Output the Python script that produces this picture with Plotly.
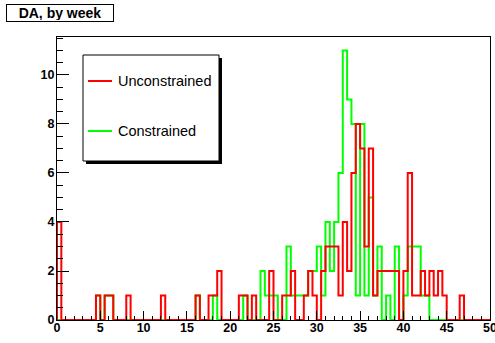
import numpy as np
import plotly.graph_objects as go

# Histogram binning: 100 half-week bins from 0 to 50
x_min, x_max, bin_width = 0.0, 50.0, 0.5

# Bin contents, 10 bins per row
unconstrained = [
    4, 0, 0, 0, 0, 0, 0, 0, 0, 1,
    0, 1, 1, 0, 0, 0, 1, 0, 0, 0,
    0, 0, 0, 0, 1, 0, 0, 0, 0, 0,
    0, 0, 1, 0, 0, 1, 1, 2, 0, 0,
    0, 0, 1, 1, 0, 1, 0, 0, 0, 2,
    0, 0, 1, 1, 2, 0, 0, 1, 2, 1,
    0, 2, 3, 3, 3, 1, 4, 2, 6, 8,
    7, 3, 7, 1, 2, 2, 2, 2, 2, 0,
    2, 6, 1, 1, 2, 1, 2, 1, 2, 1,
    0, 0, 0, 1, 0, 0, 0, 0, 0, 0,
]
constrained = [
    0, 0, 0, 0, 0, 0, 0, 0, 0, 1,
    0, 1, 1, 0, 0, 0, 0, 0, 0, 0,
    0, 0, 0, 0, 0, 0, 0, 0, 0, 0,
    0, 0, 1, 0, 0, 0, 1, 0, 0, 0,
    0, 0, 0, 1, 0, 0, 0, 2, 1, 1,
    1, 0, 0, 3, 1, 1, 1, 1, 2, 2,
    3, 1, 4, 2, 4, 6, 11, 9, 8, 1,
    8, 1, 5, 1, 3, 0, 1, 0, 3, 0,
    1, 3, 3, 3, 1, 1, 0, 0, 0, 0,
    0, 0, 0, 0, 0, 0, 0, 0, 0, 0,
]
series_names = ["Unconstrained", "Constrained"]
series_colors = ["#ff0000", "#00ff00"]

edges = np.arange(x_min, x_max + bin_width / 2, bin_width)
y_max = 1.05 * max(max(unconstrained), max(constrained))


def outline(counts):
    """Step outline of a histogram, closed down to zero at both ends."""
    xs = [edges[0]] + list(edges) + [edges[-1]]
    ys = [0] + list(counts) + [counts[-1], 0]
    return xs, ys


# Plot-area geometry in pixels (used for the legend box and title placement)
W, H = 495, 343
L, R, T, B = 57, 5, 37, 23
pw, ph = W - L - R, H - T - B


def px(x):
    return (x - L) / pw


def py(y):
    return (H - B - y) / ph


fig = go.Figure()
# constrained drawn first so the unconstrained outline sits on top
for counts, name, color in [(constrained, series_names[1], series_colors[1]),
                            (unconstrained, series_names[0], series_colors[0])]:
    xs, ys = outline(counts)
    fig.add_trace(go.Scatter(x=xs, y=ys, mode="lines", name=name,
                             line=dict(color=color, width=2, shape="hv"),
                             showlegend=False, hoverinfo="skip"))

tick_font = dict(family="Liberation Sans", size=12.5, color="black", weight="bold")

fig.update_layout(
    width=W, height=H,
    margin=dict(l=L, r=R, t=T, b=B, autoexpand=False),
    paper_bgcolor="white", plot_bgcolor="white",
    showlegend=False,
    xaxis=dict(range=[x_min, x_max], showgrid=False, zeroline=False, automargin=False,
               showline=True, mirror=True, linecolor="black", linewidth=1,
               ticks="inside", ticklen=9, tickcolor="black", dtick=5, tick0=0,
               tickfont=tick_font, ticklabeloverflow="allow", ticklabelstandoff=-4,
               minor=dict(ticks="inside", ticklen=4, dtick=1, tickcolor="black", showgrid=False)),
    yaxis=dict(range=[0, y_max], showgrid=False, zeroline=False, automargin=False,
               showline=True, mirror=True, linecolor="black", linewidth=1,
               ticks="inside", ticklen=12, tickcolor="black", dtick=2, tick0=0,
               tickfont=tick_font, ticklabelstandoff=-1,
               minor=dict(ticks="inside", ticklen=6, dtick=0.5, tickcolor="black", showgrid=False)),
)

# Title box
fig.add_annotation(xref="paper", yref="paper", x=px(6), y=py(3.5),
                   xanchor="left", yanchor="top", showarrow=False,
                   text="<b>DA, by week</b>", width=104, height=14,
                   font=dict(family="Liberation Sans", size=14, color="black"),
                   bgcolor="white", bordercolor="black", borderwidth=1, borderpad=1)

# Legend: shadow, box, line samples and labels
lx0, ly0, lx1, ly1 = 83, 55, 219, 161
fig.add_shape(type="rect", xref="paper", yref="paper",
              x0=px(lx0 + 3), y0=py(ly1 + 3), x1=px(lx1 + 3), y1=py(ly0 + 3),
              fillcolor="black", line=dict(width=0))
fig.add_shape(type="rect", xref="paper", yref="paper",
              x0=px(lx0), y0=py(ly1), x1=px(lx1), y1=py(ly0),
              fillcolor="white", line=dict(color="black", width=1))
for name, color, yy in [(series_names[0], series_colors[0], 81),
                        (series_names[1], series_colors[1], 131)]:
    fig.add_shape(type="line", xref="paper", yref="paper",
                  x0=px(88), x1=px(112), y0=py(yy), y1=py(yy),
                  line=dict(color=color, width=2))
    fig.add_annotation(xref="paper", yref="paper", x=px(116), y=py(yy),
                       xanchor="left", yanchor="middle", showarrow=False,
                       text=name,
                       font=dict(family="Liberation Sans", size=14.5, color="black"))

fig.write_html("out.html")
